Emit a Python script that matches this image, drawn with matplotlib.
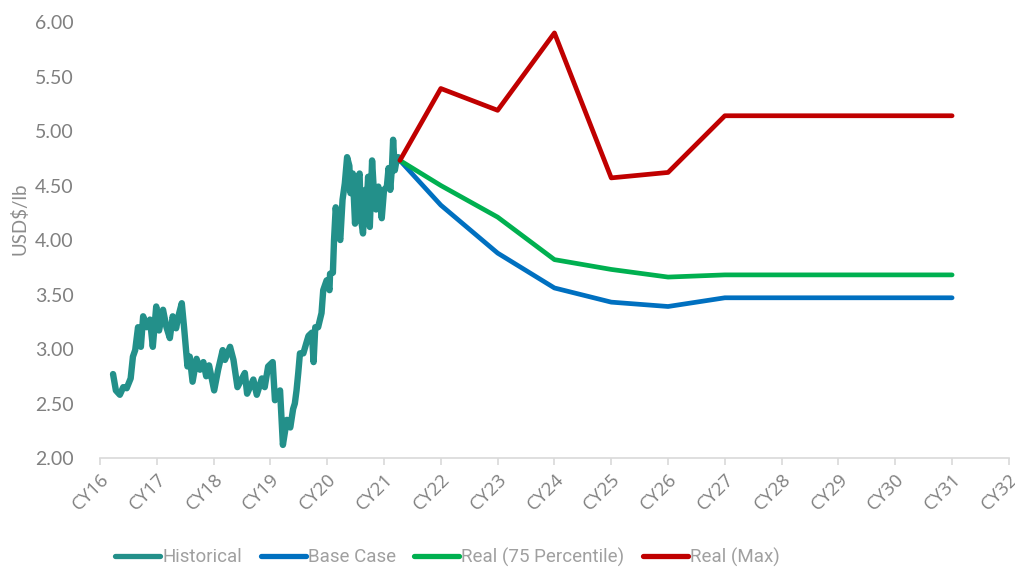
import matplotlib
matplotlib.use("Agg")
import matplotlib.pyplot as plt
from matplotlib.lines import Line2D

# historical copper price, decimal year / USD per lb
hist_years = [
    2016.23, 2016.28, 2016.35, 2016.41, 2016.47, 2016.54, 2016.58, 2016.62,
    2016.67, 2016.72, 2016.76, 2016.82, 2016.88, 2016.93, 2016.99, 2017.04,
    2017.11, 2017.17, 2017.23, 2017.28, 2017.34, 2017.38, 2017.44, 2017.48,
    2017.54, 2017.58, 2017.63, 2017.70, 2017.76, 2017.82, 2017.87, 2017.92,
    2018.01, 2018.08, 2018.16, 2018.20, 2018.29, 2018.35, 2018.42, 2018.49,
    2018.55, 2018.59, 2018.70, 2018.76, 2018.85, 2018.90, 2018.96, 2019.04,
    2019.08, 2019.17, 2019.22, 2019.29, 2019.35, 2019.40, 2019.43, 2019.46,
    2019.49, 2019.52, 2019.58, 2019.63, 2019.67, 2019.73, 2019.76, 2019.79,
    2019.84, 2019.90, 2019.93, 2019.99, 2020.04, 2020.05, 2020.10, 2020.12,
    2020.15, 2020.20, 2020.23, 2020.27, 2020.31, 2020.35, 2020.39, 2020.41,
    2020.45, 2020.49, 2020.53, 2020.57, 2020.59, 2020.63, 2020.67, 2020.70,
    2020.72, 2020.75, 2020.79, 2020.82, 2020.86, 2020.90, 2020.93, 2020.96,
    2021.00, 2021.05, 2021.08, 2021.11, 2021.14, 2021.16, 2021.19, 2021.22,
    2021.25, 2021.28,
]
hist_price = [
    2.77, 2.62, 2.58, 2.65, 2.64, 2.73, 2.93, 2.99,
    3.20, 3.02, 3.30, 3.20, 3.27, 3.02, 3.39, 3.17,
    3.36, 3.20, 3.10, 3.30, 3.19, 3.30, 3.42, 3.20,
    2.84, 2.93, 2.70, 2.91, 2.81, 2.88, 2.75, 2.85,
    2.62, 2.81, 2.99, 2.90, 3.02, 2.90, 2.65, 2.72,
    2.78, 2.59, 2.72, 2.58, 2.73, 2.65, 2.84, 2.88,
    2.53, 2.62, 2.12, 2.35, 2.28, 2.45, 2.50, 2.62,
    2.78, 2.96, 2.96, 3.05, 3.12, 3.15, 2.88, 3.20,
    3.20, 3.33, 3.54, 3.63, 3.54, 3.69, 3.70, 4.00,
    4.30, 4.05, 4.00, 4.37, 4.52, 4.76, 4.68, 4.43,
    4.61, 4.15, 4.55, 4.61, 4.21, 4.06, 4.46, 4.37,
    4.58, 4.12, 4.73, 4.46, 4.28, 4.49, 4.37, 4.20,
    4.46, 4.49, 4.66, 4.46, 4.67, 4.92, 4.64, 4.73,
    4.76, 4.73,
]

# forecast scenarios, starting from the last historical point
fc_years = [2021.28, 2022, 2023, 2024, 2025, 2026, 2027, 2028, 2029, 2030, 2031]
base_case = [4.73, 4.32, 3.88, 3.56, 3.43, 3.39, 3.47, 3.47, 3.47, 3.47, 3.47]
real_p75 = [4.73, 4.50, 4.21, 3.82, 3.73, 3.66, 3.68, 3.68, 3.68, 3.68, 3.68]
real_max = [4.73, 5.39, 5.19, 5.90, 4.57, 4.62, 5.14, 5.14, 5.14, 5.14, 5.14]

year_ticks = list(range(2016, 2033))
year_labels = ["CY%02d" % (y % 100) for y in year_ticks]
y_ticks = [2.0, 2.5, 3.0, 3.5, 4.0, 4.5, 5.0, 5.5, 6.0]

C_HIST = "#23908a"
C_BASE = "#0070c0"
C_P75 = "#00b050"
C_MAX = "#c00000"
GREY = "#808080"

fig = plt.figure(figsize=(10.15, 5.72), dpi=100)
ax = fig.add_axes([0.0985, 0.1993, 0.8955, 0.7622])

kw = dict(solid_joinstyle="round", solid_capstyle="round")
ax.plot(hist_years, hist_price, color=C_HIST, lw=4.6, **kw)
ax.plot(fc_years, base_case, color=C_BASE, lw=3.4, **kw)
ax.plot(fc_years, real_p75, color=C_P75, lw=3.4, **kw)
ax.plot(fc_years, real_max, color=C_MAX, lw=3.4, **kw)

ax.set_xlim(2016, 2032)
ax.set_ylim(2, 6)

for s in ("top", "right", "left"):
    ax.spines[s].set_visible(False)
ax.spines["bottom"].set_color("#d9d9d9")
ax.spines["bottom"].set_linewidth(1.2)

ax.set_xticks(year_ticks)
ax.set_xticklabels(year_labels, rotation=45, ha="right", rotation_mode="anchor",
                   fontsize=13.5, color=GREY, family="Open Sans")
ax.tick_params(axis="x", length=5, width=1.2, color="#d9d9d9", pad=4)

ax.set_yticks(y_ticks)
ax.set_yticklabels(["%.2f" % v for v in y_ticks], fontsize=14, color=GREY,
                   family="Lato")
ax.tick_params(axis="y", length=0, pad=19)

fig.text(0.019, 0.617, "USD$/lb", rotation=90, ha="center", va="center",
         fontsize=13.5, color="#8c8c8c", family="Lato")

handles = [Line2D([], [], color=c, lw=3.8, solid_capstyle="round")
           for c in (C_HIST, C_BASE, C_P75, C_MAX)]
names = ["Historical", "Base Case", "Real (75 Percentile)", "Real (Max)"]
leg = fig.legend(handles, names, ncol=4, loc="center left",
                 bbox_to_anchor=(0.097, 0.026), frameon=False,
                 handlelength=2.4, handletextpad=0.1, columnspacing=1.0,
                 prop={"family": "Roboto", "size": 13.5})
for t in leg.get_texts():
    t.set_color("#a0a0a0")

fig.savefig("out.png", dpi=100)
